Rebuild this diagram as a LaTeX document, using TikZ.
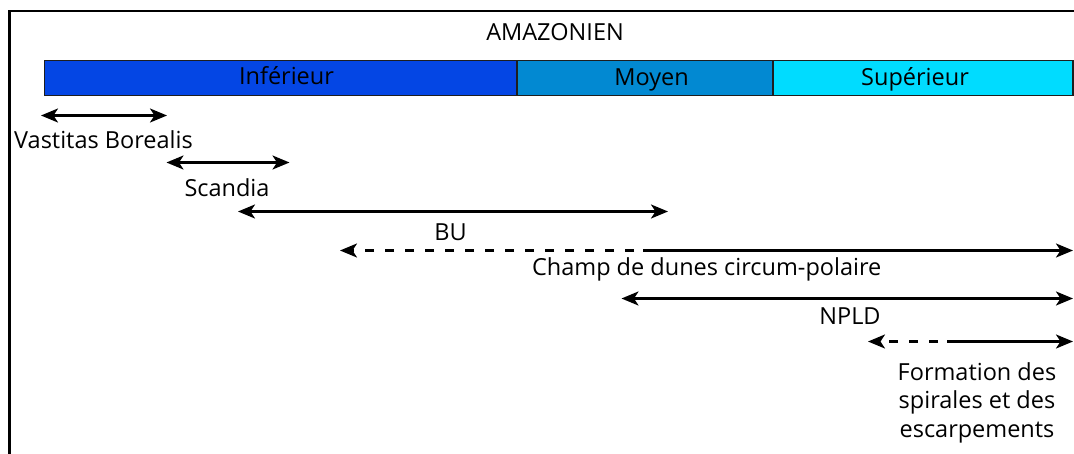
\documentclass[tikz,border=0pt]{standalone}
\usepackage{fontspec}
\setmainfont{Open Sans}
\usetikzlibrary{arrows.meta}
\definecolor{cinf}{RGB}{4,70,228}
\definecolor{cmoy}{RGB}{2,137,210}
\definecolor{csup}{RGB}{0,220,255}
\definecolor{cedge}{RGB}{30,30,30}
\tikzset{
  lbl/.style={anchor=base, inner sep=0pt, font=\fontsize{23.5}{27}\selectfont},
  seg/.style={draw=cedge, line width=1.6pt, anchor=north west, minimum height=35pt, inner sep=0pt},
  tip/.style={-{Stealth[length=17pt,width=14pt,inset=4.5pt]}},
  both/.style={{Stealth[length=17pt,width=14pt,inset=4.5pt]}-{Stealth[length=17pt,width=14pt,inset=4.5pt]}},
  span/.style={line width=2.3pt, black},
  dsh/.style={line width=2.3pt, black, dash pattern=on 9pt off 11pt, dash phase=11pt}
}
\begin{document}
\begin{tikzpicture}[x=1pt,y=-1pt]
\useasboundingbox (0,0) rectangle (1074,453);
\clip (0,0) rectangle (1074,453);
% frame
\coordinate (fbl) at (9.5,470);
\coordinate (ftl) at (9.5,11);
\coordinate (ftr) at (1090,11);
\draw[line width=2.4pt] (fbl) -- (ftl) -- (ftr);
% period bar
\node[seg, fill=cinf, minimum width=472.5pt] (inf) at (43.5,59.5) {};
\node[seg, fill=cmoy, minimum width=256pt] (moy) at (516,59.5) {};
\node[seg, fill=csup, minimum width=300pt] (sup) at (772,59.5) {};
\node[lbl] (amz) at (555,40) {AMAZONIEN};
\node[lbl] (tinf) at (286.5,84.5) {Inférieur};
\node[lbl] (tmoy) at (651.5,85) {Moyen};
\node[lbl] (tsup) at (915,85) {Supérieur};
% Vastitas Borealis
\coordinate (va) at (41,115.5);
\coordinate (vb) at (167,115.5);
\draw[span,both] (va) -- (vb);
\node[lbl] (tva) at (103.5,148) {Vastitas Borealis};
% Scandia
\coordinate (sa) at (166.5,162.5);
\coordinate (sb) at (289.5,162.5);
\draw[span,both] (sa) -- (sb);
\node[lbl] (tsc) at (227,196) {Scandia};
% BU
\coordinate (ba) at (238,211.5);
\coordinate (bb) at (668,211.5);
\draw[span,both] (ba) -- (bb);
\node[lbl] (tbu) at (450.5,240) {BU};
% Champ de dunes
\coordinate (ca) at (340,250.5);
\coordinate (cm) at (643,250.5);
\coordinate (cb) at (1073,250.5);
\draw[dsh,tip] (cm) -- (ca);
\draw[span,tip] (cm) -- (cb);
\node[lbl] (tch) at (706.7,275) {Champ de dunes circum-polaire};
% NPLD
\coordinate (na) at (621.5,298.5);
\coordinate (nb) at (1073,298.5);
\draw[span,both] (na) -- (nb);
\node[lbl] (tnp) at (850,324.5) {NPLD};
% Formation
\coordinate (fa) at (868,341.5);
\coordinate (fm) at (947,341.5);
\coordinate (fb) at (1073,341.5);
\draw[dsh,tip] (fm) -- (fa);
\draw[span,tip] (fm) -- (fb);
\node[lbl] (tf1) at (977,380) {Formation des};
\node[lbl] (tf2) at (977,408.5) {spirales et des};
\node[lbl] (tf3) at (977,437) {escarpements};
\end{tikzpicture}
\end{document}
